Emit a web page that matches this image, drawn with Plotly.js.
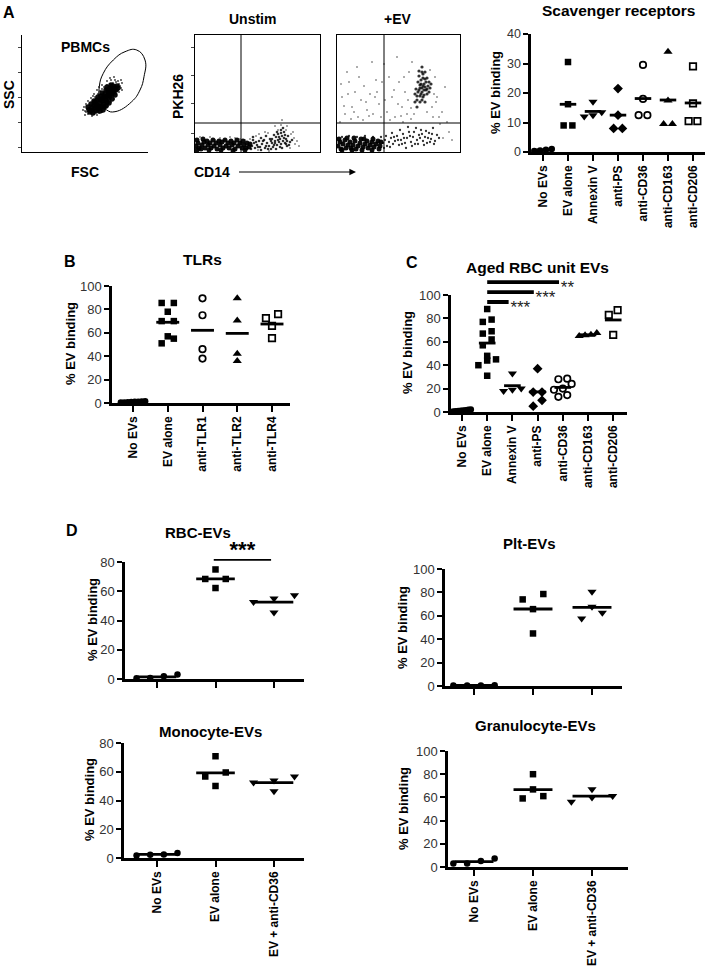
<!DOCTYPE html>
<html>
<head>
<meta charset="utf-8">
<script src="https://cdn.plot.ly/plotly-3.0.1.min.js"></script>
<style>
  html, body {margin: 0; padding: 0; background: #fff}
  #chart {width: 709px; height: 971px}
</style>
</head>
<body>
<div id="chart"></div>
<script>
const W = 709, H = 971
const FONT = "Liberation Sans, Arial, Helvetica, sans-serif"

// ---------- data: dot plots (% EV binding) ----------
const scavCats = ["No EVs", "EV alone", "Annexin V", "anti-PS", "anti-CD36", "anti-CD163", "anti-CD206"]
const scavVals = [
  [0.5, 0.3, 0.8, 1.0],
  [30.5, 16.2, 9, 9],
  [17, 13.5, 12.5, 12],
  [21.5, 12.5, 8, 8],
  [29.5, 18, 12.5, 12.5],
  [34, 17.5, 9.5, 9.5],
  [29, 16.5, 10.5, 10.5]
]

const tlrCats = ["No EVs", "EV alone", "anti-TLR1", "anti-TLR2", "anti-TLR4"]
const tlrVals = [
  [0.5, 1, 1.5, 0.8, 1.2, 0.6, 1, 0.4],
  [85.5, 85.5, 78, 70, 70, 57, 55, 51],
  [89.5, 75, 46, 38],
  [89.5, 70.5, 42, 36],
  [76, 72.5, 66, 55.5]
]

const agedCats = ["No EVs", "EV alone", "Annexin V", "anti-PS", "anti-CD36", "anti-CD163", "anti-CD206"]
const agedVals = [
  [0.5, 1, 2, 1.5, 0.8, 1.2, 2.2, 0.6],
  [88, 79, 77, 69, 67, 62, 57, 48, 45, 44, 40, 31],
  [33, 20, 19, 18],
  [37, 17, 17, 10, 5],
  [28.5, 28, 24, 20, 19, 14.5, 13],
  [67.5, 66, 65, 65.5],
  [87, 83, 66]
]
const agedSigTo = [4, 3, 2]
const agedSigText = ["**", "***", "***"]

const dCats = ["No EVs", "EV alone", "EV + anti-CD36"]
const rbcVals = [[1.8, 0.5, 0.7, 3.0], [74.9, 68.4, 68.4, 62.2], [57.3, 55, 52.7, 45.5]]
const pltVals = [[0.5, 0.4, 0.5, 0.6], [78.6, 74, 65.7, 44.9], [80.6, 67.7, 62.6, 57.7]]
const monoVals = [[2.5, 1.8, 2.3, 3.4], [70.8, 59.5, 56.7, 50.1], [56.7, 54, 52.6, 46.5]]
const granVals = [[5.1, 3.1, 3.1, 7.4], [80, 66.9, 59.1, 61.1], [67.1, 61.1, 60, 56.3]]

// ---------- data: flow plots (events, box units) ----------
const pbmcCore = [[70,42],[73,44],[76,43],[79,45],[74,48],[78,49],[82,48],[85,50],[80,53],[84,55],[87,54],[83,58],[87,59],[90,58],[86,62],[90,63],[93,64],[95,66],[77,46],[81,51],[88,56],[92,61],[75,52],[79,56],[84,52],[72,47],[89,60],[82,45],
  [68,40],[71,39],[74,41],[66,45],[69,48],[72,51],[76,55],[80,59],[84,62],[88,64],[91,66],[94,62],[93,57],[90,53],[87,49],[84,46],[81,42],[78,41],[86,57],[82,55],[78,52],[75,45],[89,67],[96,64],[85,65],[91,61],[67,42],[70,44],[73,50]]
const pbmcSparse = [[64,40],[66,38],[67,44],[68,47],[69,39],[71,50],[72,38],[73,55],[76,58],[78,61],[80,63],[82,65],[85,67],[88,68],[91,69],[94,70],[97,68],[98,66],[96,62],[94,58],[92,53],[89,50],[86,46],[83,43],[80,40],[77,39],[74,40],[70,46],[67,41],[65,43],[99,64],[93,72],[85,71],[75,62],[71,56],[62,45],[63,41],[96,71],[89,72],[100,69],
  [64,48],[66,51],[69,54],[72,58],[61,42],[63,37],[70,36],[75,37],[97,60],[99,72],[92,75],[88,74],[80,67],[77,65],[100,62]]
const pbmcGate = [[114.7,102],[123,92],[122,75.3],[118,62],[109.7,50.3],[93,40.3],[84.7,42],[78,52],[77.3,65.3],[81.3,78.7],[91.3,92],[103,100.3]]

const unstimCore = [[1,6],[3,9],[4,4],[7,7],[9,10],[10,4],[13,7],[15,9],[16,4],[19,6],[21,9],[22,3],[25,7],[27,10],[28,4],[31,6],[33,9],[34,4],[37,7],[39,9],[40,3],[43,6],[45,9],[47,4],[49,7],[52,9],[54,5],
  [2,12],[6,3],[8,13],[12,11],[18,12],[24,11],[30,12],[36,11],[42,12],[48,11],[51,4],[55,8],[2,2],[14,2],[26,2],[38,1.5],[50,2]]
const unstimMid = [[57,6],[59,9],[60,4],[62,7],[64,11],[65,5],[67,8],[69,12],[70,4],[72,9],[74,6],[75,13],[77,9],[78,5],[80,11],[81,15],[82,7],[83,18],[84,10],[85,13],[86,8],[87,16],[88,11],[89,20],[90,9],[91,13],[92,6],[85,5],[79,17],[88,24],[93,16],[95,10],[97,12],[66,14],[58,12],[71,16],[76,3],
  [56,3],[58,15],[61,10],[63,5],[66,2],[68,11],[71,6],[73,3],[76,11],[79,7],[81,3],[83,12],[86,19],[87,4],[89,14],[90,17],[92,11],[84,15],[82,20],[86,22],[91,8],[94,7],[80,9],[77,13]]
const unstimSparse = [[100,8],[99,14],[55,13],[50,12],[45,13],[30,12],[20,12],[10,12],[61,16],[73,19],[83,22],[86,27],[91,22],[96,18],[102,11],[63,2],[74,1],[95,4],[87,32],
  [40,14],[25,14],[15,15],[5,15],[35,15],[104,6],[98,20],[92,26],[80,26],[70,20],[64,18]]
const unstimQuad = [46, 29]

const evCore = [[1,6],[3,10],[4,3],[6,8],[8,12],[9,4],[11,7],[13,10],[14,4],[16,7],[18,11],[19,3],[21,6],[23,9],[24,13],[26,5],[28,8],[30,11],[31,4],[33,7],[35,10],[37,5],[39,8],[41,11],[43,6],
  [2,13],[10,14],[17,14],[27,13],[36,13],[5,2],[15,2],[25,2],[35,2],[42,3],[44,10]]
const evMid = [[46,9],[48,12],[50,6],[52,10],[54,14],[56,8],[58,11],[60,16],[62,7],[64,12],[66,18],[68,9],[70,14],[72,20],[74,10],[76,15],[78,8],[80,12],[82,17],[84,22],[86,11],[88,15],[90,9],[92,19],[94,13],[96,24],[98,11],[100,17],[44,15],[47,4],[55,19],[63,22],[71,25],[79,24],[5,15],[12,16],[20,15],[28,16],[36,15],
  [49,16],[53,5],[57,15],[61,12],[65,8],[67,14],[69,4],[73,16],[75,6],[77,20],[81,8],[83,14],[85,18],[87,7],[89,21],[91,14],[93,10],[95,18],[97,8],[102,14]]
const evCluster = [[78,50],[80,56],[82,62],[84,68],[86,74],[88,65],[90,58],[86,55],[83,50],[81,70],[85,80],[87,62],[89,70],[91,66],[79,63],[84,58],[88,50],[92,60],[82,76],[86,66],[83,64],[90,74],[80,45],[94,68],[85,85],
  [81,60],[83,56],[85,60],[87,57],[89,62],[85,64],[87,68],[84,72],[88,73],[86,78],[83,67],[90,63],[92,70],[80,52],[85,52],[78,58],[93,64],[88,80],[82,81]]
const evSparse = [[5,55],[8,38],[12,70],[15,45],[18,60],[21,35],[24,52],[27,66],[30,42],[33,58],[36,38],[39,72],[42,48],[10,80],[20,85],[35,90],[3,30],[26,32],[44,35],[40,60],[50,40],[55,55],[58,35],[62,70],[65,45],[68,60],[70,38],[72,80],[75,90],[95,45],[98,75],[100,55],[105,40],[108,65],[60,95],[52,75],[66,30],[74,33],[96,35],[103,28],[110,30],[112,20],[106,14],[115,12],
  [7,46],[14,33],[22,75],[29,50],[32,36],[38,55],[45,70],[48,52],[53,32],[57,62],[61,48],[64,36],[67,75],[71,52],[74,44],[77,38],[93,82],[99,50],[102,35],[11,58],[17,40],[4,68],[47,88],[90,40],[97,58]]
const evQuad = [47, 29]

// ---------- helpers ----------
const px2x = px => px / W
const px2y = py => 1 - py / H
const mean = a => a.reduce((s, v) => s + v, 0) / a.length

const sizeOf = {"circle": 6.5, "square": 6.5, "triangle-down": 8, "diamond": 7.5, "circle-open": 6.5, "triangle-up": 8, "square-open": 6.5}
const symA = ["circle", "square", "triangle-down", "diamond", "circle-open", "triangle-up", "square-open"]
const symB = ["circle", "square", "circle-open", "triangle-up", "square-open"]
const symD = ["circle", "square", "triangle-down"]

// points closer than one marker vertically share a row and are spread sideways
const spreadOffsets = (vals, pxPerUnit) => {
  const order = vals.map((v, i) => i).sort((a, b) => vals[a] - vals[b])
  const offsets = vals.map(() => 0)
  let row = []
  const flush = () => {
    const k = row.length
    if (k > 1) {
      const step = Math.min(0.35, 0.7 / (k - 1))
      row.forEach((idx, j) => { offsets[idx] = (j - (k - 1) / 2) * step })
    }
    row = []
  }
  for (const i of order) {
    if (row.length && (vals[i] - vals[row[0]]) * pxPerUnit >= 7) flush()
    row.push(i)
  }
  flush()
  return offsets
}

const catPanels = [
  {id: 4, cats: scavCats, vals: scavVals, sym: symA, x0: 531, x1: 705, cat0: 543, step: 25, yZero: 152, yTop: 34, yMax: 40, dtick: 10, tf: 12.5, showCats: true},
  {id: 5, cats: tlrCats, vals: tlrVals, sym: symB, x0: 112, x1: 290, cat0: 133, step: 34.75, yZero: 403, yTop: 286, yMax: 100, dtick: 20, tf: 13, showCats: true},
  {id: 6, cats: agedCats, vals: agedVals, sym: symA, x0: 451, x1: 627, cat0: 462, step: 25.2, yZero: 412, yTop: 295, yMax: 100, dtick: 20, tf: 13, showCats: true},
  {id: 7, cats: dCats, vals: rbcVals, sym: symD, x0: 125, x1: 304, cat0: 157, step: 58.5, yZero: 679, yTop: 562, yMax: 80, dtick: 20, tf: 13, showCats: false},
  {id: 8, cats: dCats, vals: pltVals, sym: symD, x0: 445, x1: 622, cat0: 474, step: 59, yZero: 686, yTop: 569, yMax: 100, dtick: 20, tf: 13, showCats: false},
  {id: 9, cats: dCats, vals: monoVals, sym: symD, x0: 124, x1: 304, cat0: 157, step: 58.5, yZero: 858, yTop: 743, yMax: 80, dtick: 20, tf: 13, showCats: true},
  {id: 10, cats: dCats, vals: granVals, sym: symD, x0: 448, x1: 628, cat0: 474, step: 59, yZero: 867, yTop: 751, yMax: 100, dtick: 20, tf: 13, showCats: true}
]

const data = []
const layout = {
  width: W, height: H, margin: {l: 0, r: 0, t: 0, b: 0},
  paper_bgcolor: "#fff", plot_bgcolor: "rgba(0,0,0,0)", showlegend: false,
  font: {family: FONT, color: "#000"}, annotations: [], shapes: []
}

for (const p of catPanels) {
  const pxPerUnit = (p.yZero - p.yTop) / p.yMax
  const xa = "x" + p.id, ya = "y" + p.id
  p.vals.forEach((vals, i) => {
    const off = spreadOffsets(vals, pxPerUnit)
    const sym = p.sym[i]
    const m = mean(vals)
    data.push({x: [i - 0.33, i + 0.33], y: [m, m], xaxis: xa, yaxis: ya, type: "scatter", mode: "lines",
      line: {color: "#000", width: 2.8}, hoverinfo: "skip"})
    data.push({x: vals.map((v, j) => i + off[j]), y: vals, xaxis: xa, yaxis: ya, type: "scatter", mode: "markers",
      cliponaxis: false,
      marker: {symbol: sym, size: sizeOf[sym], color: "#000",
        line: {color: "#000", width: sym.endsWith("open") ? 1.7 : 0}}})
  })
  layout["xaxis" + p.id] = {
    domain: [px2x(p.x0), px2x(p.x1)], range: [(p.x0 - p.cat0) / p.step, (p.x1 - p.cat0) / p.step],
    anchor: ya, tickvals: p.cats.map((c, i) => i), ticktext: p.cats.map(c => "<b>" + c + "</b>"),
    tickangle: -90, ticks: "outside", ticklen: 6, tickwidth: 2, tickcolor: "#000",
    showline: true, linewidth: 2.6, linecolor: "#000", showgrid: false, zeroline: false,
    showticklabels: p.showCats, tickfont: {family: FONT, size: 12, color: "#000"}
  }
  layout["yaxis" + p.id] = {
    domain: [px2y(p.yZero), px2y(p.yTop)], range: [0, p.yMax], anchor: xa,
    tick0: 0, dtick: p.dtick, ticks: "outside", ticklen: 5, tickwidth: 2, tickcolor: "#000",
    showline: true, linewidth: 2.6, linecolor: "#000", showgrid: false, zeroline: false,
    tickfont: {family: FONT, size: p.tf, color: "#333"}
  }
}

// significance bars on hidden overlay subplots (so they can sit above the 100 tick)
const hidden = {visible: false, showgrid: false, zeroline: false}
const pC = catPanels[2], pR = catPanels[3]
layout.xaxis11 = Object.assign({}, hidden, {domain: layout.xaxis6.domain, range: layout.xaxis6.range, anchor: "y11"})
layout.yaxis11 = Object.assign({}, hidden, {domain: [px2y(pC.yZero), px2y(pC.yZero - 120 * (pC.yZero - pC.yTop) / 100)], range: [0, 120], anchor: "x11"})
agedSigTo.forEach((to, k) => {
  const lvl = 111 - 8.5 * k
  data.push({x: [1, to - 0.15], y: [lvl, lvl], xaxis: "x11", yaxis: "y11", type: "scatter", mode: "lines",
    line: {color: "#000", width: 3.8}, hoverinfo: "skip"})
  data.push({x: [to - 0.08], y: [lvl - 6], xaxis: "x11", yaxis: "y11", type: "scatter", mode: "text",
    text: [agedSigText[k]], textposition: "middle right", cliponaxis: false,
    textfont: {family: FONT, size: 17, color: "#222"}})
})
layout.xaxis12 = Object.assign({}, hidden, {domain: layout.xaxis7.domain, range: layout.xaxis7.range, anchor: "y12"})
layout.yaxis12 = Object.assign({}, hidden, {domain: [px2y(pR.yZero), px2y(pR.yZero - 100 * (pR.yZero - pR.yTop) / 80)], range: [0, 100], anchor: "x12"})
data.push({x: [0.97, 1.95], y: [81.5, 81.5], xaxis: "x12", yaxis: "y12", type: "scatter", mode: "lines",
  line: {color: "#000", width: 1.8}, hoverinfo: "skip"})
data.push({x: [1.46], y: [87], xaxis: "x12", yaxis: "y12", type: "scatter", mode: "text", text: ["<b>***</b>"],
  textposition: "middle center", cliponaxis: false, textfont: {family: FONT, size: 22, color: "#000"}})

// ---------- flow cytometry plots ----------
const flowPanels = [
  {id: 1, x0: 22, x1: 148, box: false, yt: [5, 30, 55, 80, 105], sets: [[pbmcCore, 5.5], [pbmcSparse, 1.8]]},
  {id: 2, x0: 195, x1: 320, box: true, yt: [19, 49, 77, 105], sets: [[unstimCore, 5], [unstimMid, 2.6], [unstimSparse, 1.6]], quad: unstimQuad},
  {id: 3, x0: 337, x1: 460, box: true, yt: [], sets: [[evCore, 5], [evMid, 2.3], [evCluster, 3.2], [evSparse, 1.5]], quad: evQuad}
]
const flowTop = 35, flowBottom = 152
for (const f of flowPanels) {
  const s = f.id === 1 ? "" : String(f.id)
  const w = f.x1 - f.x0, h = flowBottom - flowTop
  for (const [pts, size] of f.sets) {
    data.push({x: pts.map(p => p[0]), y: pts.map(p => p[1]), xaxis: "x" + s, yaxis: "y" + s,
      type: "scatter", mode: "markers", marker: {size, color: "#000", opacity: size > 4 ? 0.95 : 0.8, line: {width: 0}}})
  }
  if (f.quad) {
    layout.shapes.push({type: "line", xref: "x" + s, yref: "y" + s, x0: f.quad[0], x1: f.quad[0], y0: 0, y1: h, line: {color: "#000", width: 1}})
    layout.shapes.push({type: "line", xref: "x" + s, yref: "y" + s, x0: 0, x1: w, y0: f.quad[1], y1: f.quad[1], line: {color: "#000", width: 1}})
  }
  layout["xaxis" + s] = {domain: [px2x(f.x0), px2x(f.x1)], range: [0, w], anchor: "y" + s,
    showline: true, mirror: f.box, linewidth: 1, linecolor: "#000", showgrid: false, zeroline: false,
    ticks: "", showticklabels: false}
  layout["yaxis" + s] = {domain: [px2y(flowBottom), px2y(flowTop)], range: [0, h], anchor: "x" + s,
    showline: true, mirror: f.box, linewidth: 1, linecolor: "#000", showgrid: false, zeroline: false,
    tickvals: f.yt, ticks: f.yt.length ? "outside" : "", ticklen: 3, tickwidth: 1, showticklabels: false}
}
const gate = pbmcGate.concat([pbmcGate[0]])
data.push({x: gate.map(p => p[0]), y: gate.map(p => p[1]), xaxis: "x", yaxis: "y", type: "scatter", mode: "lines",
  line: {color: "#000", width: 1, shape: "spline", smoothing: 1.3}, hoverinfo: "skip"})

// ---------- text ----------
const label = (text, x, y, size, angle) => layout.annotations.push({
  text, xref: "paper", yref: "paper", x: px2x(x), y: px2y(y), xanchor: "center", yanchor: "middle",
  showarrow: false, textangle: angle || 0, font: {family: FONT, size, color: "#000"}
})
label("<b>A</b>", 9, 13, 16)
label("<b>PBMCs</b>", 85, 47, 14)
label("<b>SSC</b>", 9, 95, 14, -90)
label("<b>FSC</b>", 85, 172, 14)
label("<b>Unstim</b>", 252, 19, 14)
label("<b>+EV</b>", 398, 19, 14)
label("<b>PKH26</b>", 178, 97, 14, -90)
label("<b>CD14</b>", 212, 172, 14)
label("<b>Scavenger receptors</b>", 618, 10, 15.5)
label("<b>B</b>", 70, 261, 16)
label("<b>TLRs</b>", 202, 259, 15.5)
label("<b>C</b>", 412, 262, 16)
label("<b>Aged RBC unit EVs</b>", 537, 268, 15.5)
label("<b>D</b>", 72, 530, 16)
label("<b>RBC-EVs</b>", 198, 532, 15)
label("<b>Plt-EVs</b>", 529, 543, 15)
label("<b>Monocyte-EVs</b>", 210, 731, 15)
label("<b>Granulocyte-EVs</b>", 535, 725, 15)
const yTitlePos = [[496, 93], [71, 344], [407, 353], [92, 620], [402, 628], [89, 800], [403, 809]]
for (const [x, y] of yTitlePos) label("<b>% EV binding</b>", x, y, 13, -90)

layout.annotations.push({text: " ", xref: "paper", yref: "paper", x: px2x(356), y: px2y(172),
  ax: -120, ay: 0, showarrow: true, arrowhead: 2, arrowsize: 1.1, arrowwidth: 1.2, arrowcolor: "#000"})

Plotly.newPlot("chart", data, layout, {displayModeBar: false, staticPlot: true})
</script>
</body>
</html>
